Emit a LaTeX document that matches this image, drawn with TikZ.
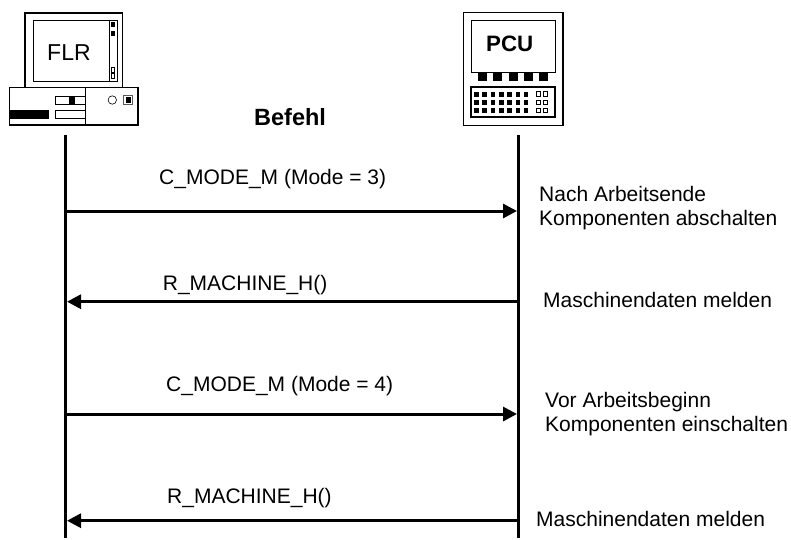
\documentclass[tikz,border=0pt]{standalone}
\usepackage{fontspec}
\setmainfont{Liberation Sans}
\usetikzlibrary{arrows.meta}
\tikzset{
 px/.style={x=1pt,y=-1pt},
 thin box/.style={draw=black,line width=1pt,fill=white},
 thick box/.style={draw=black,line width=1.7pt,fill=white},
 fine box/.style={draw=black,line width=0.5pt},
 solid block/.style={fill=black,draw=none},
 lifeline/.style={draw=black,line width=3pt},
 msg/.style={draw=black,line width=3pt,-{Triangle[length=14pt,width=14pt]},shorten >=1.5pt},
 lbl/.style={font=\fontsize{21}{24}\selectfont,inner sep=0pt,align=left,anchor=base west},
 ttl/.style={inner sep=0pt,anchor=base west},
}
\begin{document}
\begin{tikzpicture}[px]
\useasboundingbox (0,0) rectangle (791,539);
% FLR computer
\draw[thick box] (25,13) rectangle (122.5,87.5);
\draw[thin box] (33,20) rectangle (117,81);
\draw[thin box] (109,20) rectangle (117,81);
\fill[solid block] (110.5,22) rectangle (115,27);
\fill[solid block] (110.5,31) rectangle (115,36);
\draw[fine box] (111,67.5) rectangle (114.5,72.5);
\draw[fine box] (111,73) rectangle (114.5,78);
\node[ttl,font=\fontsize{23}{26}\selectfont] (flr) at (47,60) {FLR};
\draw[thick box] (9.5,87.5) rectangle (138,125);
\draw[draw=black,line width=0.6pt] (85.5,87.5) -- (85.5,125);
\draw[thin box] (55,96) rectangle (85.5,104);
\fill[solid block] (69.3,96.5) rectangle (74.7,103.5);
\draw[thin box] (55,110) rectangle (85.5,118.5);
\fill[solid block] (9.5,110) rectangle (49,119);
\draw[draw=black,line width=0.6pt] (112.3,100) circle (4.2);
\draw[draw=black!65,line width=0.9pt] (123.5,95.3) rectangle (132,104);
\fill[solid block] (126,97.3) rectangle (130.5,102.5);
% PCU device
\draw[thick box] (463.5,12.5) rectangle (562.7,125.5);
\draw[thin box] (471.7,20) rectangle (555.7,72.7);
\node[ttl,font=\bfseries\fontsize{22.3}{25}\selectfont] (pcu) at (486,51) {PCU};
\foreach \x in {478.3,493.3,508.9,524,539}{\fill[solid block] (\x,72.3) rectangle (\x+9,81);}
\draw[thick box] (471,87.3) rectangle (555,117.3);
\foreach \y in {91.7,99.9,107.8}{
 \foreach \x in {474,482.3,490.6,498.9,507.2,515.5,523.8}{\fill[solid block] (\x,\y) rectangle (\x+4.6,\y+5);}
 \draw[fine box] (536,\y) rectangle (540,\y+4.5);
 \draw[fine box] (543,\y) rectangle (547.5,\y+4.5);
}
% lifelines
\coordinate (fa) at (65.5,135);
\coordinate (fb) at (65.5,538);
\coordinate (pa) at (518.5,135);
\coordinate (pb) at (518.5,538);
\draw[lifeline] (fa) -- (fb);
\draw[lifeline] (pa) -- (pb);
% messages
\foreach \n/\y in {a/211,b/301.7,c/414,d/520.7}{
 \coordinate (l\n) at (65.5,\y);
 \coordinate (r\n) at (518.5,\y);
}
\draw[msg] (la) -- (ra);
\draw[msg] (rb) -- (lb);
\draw[msg] (lc) -- (rc);
\draw[msg] (rd) -- (ld);
% labels
\node[ttl,font=\bfseries\fontsize{23.5}{26}\selectfont] (befehl) at (254,125) {Befehl};
\node[lbl] (m1) at (159,184) {C\_MODE\_M (Mode = 3)};
\node[lbl] (m2) at (162.7,290) {R\_MACHINE\_H()};
\node[lbl] (m3) at (166,391.7) {C\_MODE\_M (Mode = 4)};
\node[lbl] (m4) at (167,503) {R\_MACHINE\_H()};
\node[lbl] (n1) at (539,225) {Nach Arbeitsende\\Komponenten abschalten};
\node[lbl] (n2) at (543,307.7) {Maschinendaten melden};
\node[lbl] (n3) at (545,431) {Vor Arbeitsbeginn\\Komponenten einschalten};
\node[lbl] (n4) at (536,526.7) {Maschinendaten melden};
\end{tikzpicture}
\end{document}
